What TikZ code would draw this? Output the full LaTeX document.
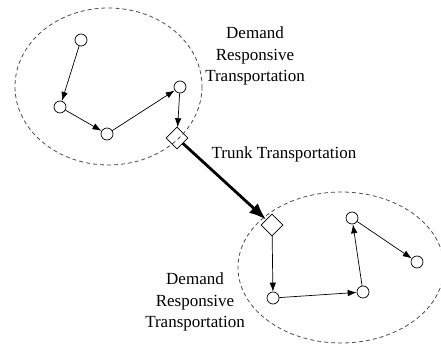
\documentclass[tikz,border=0pt]{standalone}
\usepackage{fontspec}
\setmainfont{Liberation Serif}
\usetikzlibrary{arrows.meta,shapes.geometric}
\begin{document}
\begin{tikzpicture}[x=1pt,y=-1pt,
  stop/.style={circle,draw,line width=0.7pt,minimum size=12pt,inner sep=0pt},
  hub/.style={diamond,draw,line width=0.7pt,minimum size=22pt,inner sep=0pt},
  region/.style={draw=black!70,dash pattern=on 4pt off 3pt,line width=0.8pt},
  link/.style={line width=0.7pt,-{Latex[length=9pt,width=6.5pt]}},
  trunk/.style={line width=2.8pt,-{Latex[length=17pt,width=13pt]}},
  lbl/.style={align=center,font=\fontsize{17}{21.5}\selectfont,inner sep=0pt}]
\useasboundingbox (0,0) rectangle (441,347);
\draw[region] (108.5,86.5) ellipse [x radius=93.5,y radius=78.5];
\draw[region] (341,267.5) ellipse [x radius=103,y radius=75.5];
\node[stop] (c1) at (81,40) {};
\node[stop] (c2) at (60,107) {};
\node[stop] (c3) at (107,134) {};
\node[stop] (c4) at (180,87) {};
\node[hub] (d1) at (177,138) {};
\node[hub] (d2) at (272,225) {};
\node[stop] (a) at (273,298) {};
\node[stop] (b) at (363,292) {};
\node[stop] (c) at (352,218) {};
\node[stop] (d) at (417,262) {};
\draw[link] (c1) -- (c2);
\draw[link] (c2) -- (c3);
\draw[link] (c3) -- (c4);
\draw[link] (c4) -- (d1);
\draw[trunk] (d1) -- (d2);
\draw[link] (d2) -- (a);
\draw[link] (a) -- (b);
\draw[link] (b) -- (c);
\draw[link] (c) -- (d);
\node[lbl] (t1) at (255,56) {Demand\\Responsive\\Transportation};
\node[lbl] (t2) at (195,302) {Demand\\Responsive\\Transportation};
\node[lbl] (t3) at (284,154) {Trunk Transportation};
\end{tikzpicture}
\end{document}
